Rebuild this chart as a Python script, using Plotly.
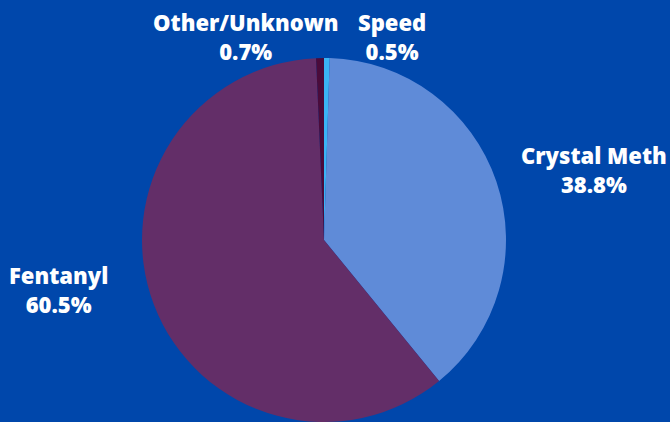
import plotly.graph_objects as go

W, H = 670, 422

categories = ["Speed", "Crystal Meth", "Fentanyl", "Other/Unknown"]
shares = [0.5, 38.8, 60.5, 0.7]
colors = ["#3AB4F5", "#5F8BD8", "#632E68", "#4A0B3B"]

# label centre positions in pixels (x from left, y from top)
label_pos = [(392, 37), (594, 169), (59, 289), (245, 37)]

fig = go.Figure(go.Pie(
    labels=categories,
    values=shares,
    sort=False,
    direction="clockwise",
    rotation=0,
    marker=dict(colors=colors, line=dict(width=0)),
    textinfo="none",
    hoverinfo="label+value",
    showlegend=False,
    domain=dict(x=[0, 648 / W], y=[0, 364 / H]),
))

annotations = []
for name, val, (px, py) in zip(categories, shares, label_pos):
    annotations.append(dict(
        x=px / W, y=1 - py / H, xref="paper", yref="paper",
        text=f"{name}<br>{val:.1f}%",
        showarrow=False, xanchor="center", yanchor="middle", align="center",
        font=dict(family="Open Sans", size=22, color="white", weight=800),
    ))

fig.update_layout(
    width=W, height=H,
    margin=dict(l=0, r=0, t=0, b=0),
    paper_bgcolor="#0047AB",
    plot_bgcolor="#0047AB",
    annotations=annotations,
)

fig.write_html(
    "out.html",
    config={"displayModeBar": False},
    post_script="document.body.style.margin='0';document.body.style.overflow='hidden';document.body.style.background='#0047AB';",
)
